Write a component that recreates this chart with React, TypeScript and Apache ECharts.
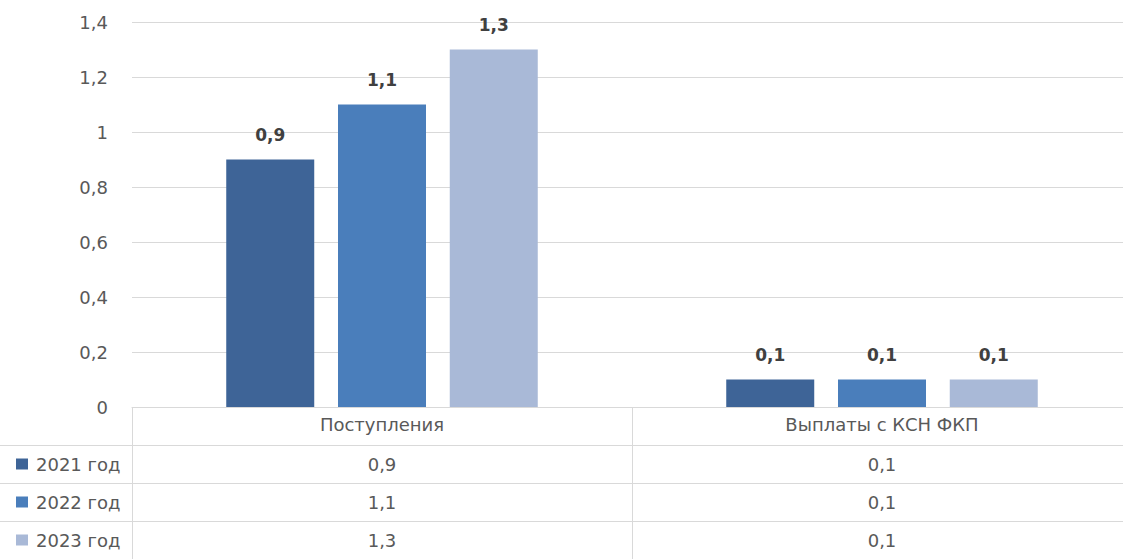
import React, { useEffect, useRef } from "react";
import * as echarts from "echarts";

const categories = ["Поступления", "Выплаты с КСН ФКП"];
const seriesNames = ["2021 год", "2022 год", "2023 год"];
const values2021 = [0.9, 0.1];
const values2022 = [1.1, 0.1];
const values2023 = [1.3, 0.1];
const seriesValues = [values2021, values2022, values2023];
const seriesColors = ["#3E6497", "#4A7EBB", "#A9B9D7"];
const yMin = 0;
const yMax = 1.4;
const yInterval = 0.2;

const FONT = "'DejaVu Sans', sans-serif";
const TEXT_COLOR = "#595959";
const LINE_COLOR = "#D9D9D9";

const fmt = (v: number) => String(+Number(v).toFixed(1)).replace(".", ",");

const CHART_W = 1140;
const CHART_H = 559;

export default function App() {
  const ref = useRef<HTMLDivElement>(null);
  useEffect(() => {
    document.body.style.margin = "0";
    const chart = echarts.init(ref.current!, null, { renderer: "svg" });
    const gridLeft = 132;
    const gridTop = 22;
    const gridBottom = 152;
    const W = CHART_W;
    const H = CHART_H;
    chart.setOption({
      animation: false,
      backgroundColor: "#ffffff",
      grid: { left: gridLeft, right: W - gridLeft - 1000, top: gridTop, bottom: gridBottom, containLabel: false },
      xAxis: {
        type: "category",
        data: categories,
        axisLine: { show: true, lineStyle: { color: LINE_COLOR, width: 1 } },
        axisTick: { show: false },
        axisLabel: { show: true, margin: 8, color: TEXT_COLOR, fontSize: 18, fontFamily: FONT },
        splitLine: { show: false },
      },
      yAxis: {
        type: "value",
        min: yMin,
        max: yMax,
        interval: yInterval,
        axisLine: { show: false },
        axisTick: { show: false },
        axisLabel: { margin: 24, color: TEXT_COLOR, fontSize: 18, fontFamily: FONT, formatter: (v: number) => fmt(v) },
        splitLine: { lineStyle: { color: LINE_COLOR, width: 1 } },
      },
      series: seriesNames.map((name, i) => ({
        name,
        type: "bar",
        data: seriesValues[i],
        barWidth: 88,
        barGap: "27%",
        itemStyle: { color: seriesColors[i] },
        label: {
          show: true,
          position: "top",
          distance: 16,
          color: "#404040",
          fontWeight: "bold",
          fontSize: 17,
          fontFamily: FONT,
          formatter: (p: any) => fmt(p.value),
        },
      })),
    });

    // Build data table beneath the axis
    const axisY = H - gridBottom;
    const rowH = (H - axisY) / 4;
    const centers = categories.map((c) => chart.convertToPixel({ xAxisIndex: 0 }, c) as number);
    const band = centers.length > 1 ? centers[1] - centers[0] : 500;
    const elements: any[] = [];
    for (let r = 1; r <= 3; r++) {
      const y = Math.round(axisY + rowH * r) + 0.5;
      elements.push({ type: "line", shape: { x1: 0, y1: y, x2: W, y2: y }, style: { stroke: LINE_COLOR, lineWidth: 1 }, silent: true });
    }
    const vx = [gridLeft, ...centers.map((c) => c + band / 2)];
    vx.forEach((x) => {
      const xx = Math.round(x) + 0.5;
      elements.push({ type: "line", shape: { x1: xx, y1: axisY, x2: xx, y2: H }, style: { stroke: LINE_COLOR, lineWidth: 1 }, silent: true });
    });
    seriesNames.forEach((name, i) => {
      const cy = axisY + rowH * (i + 1) + rowH / 2;
      elements.push({ type: "rect", shape: { x: 16, y: cy - 5.5, width: 12, height: 11 }, style: { fill: seriesColors[i] }, silent: true });
      elements.push({
        type: "text", x: 36, y: cy,
        style: { text: name, fill: TEXT_COLOR, font: `18px ${FONT}`, verticalAlign: "middle", align: "left" },
        silent: true,
      });
      centers.forEach((cx, j) => {
        elements.push({
          type: "text", x: cx, y: cy,
          style: { text: fmt(seriesValues[i][j]), fill: TEXT_COLOR, font: `18px ${FONT}`, align: "center", verticalAlign: "middle" },
          silent: true,
        });
      });
    });
    chart.setOption({ graphic: { elements } });
    return () => chart.dispose();
  }, []);
  return (
    <div style={{ width: 1123, height: 559, position: "absolute", left: 0, top: 0, overflow: "hidden" }}>
      <div ref={ref} style={{ width: CHART_W, height: CHART_H }} />
    </div>
  );
}
